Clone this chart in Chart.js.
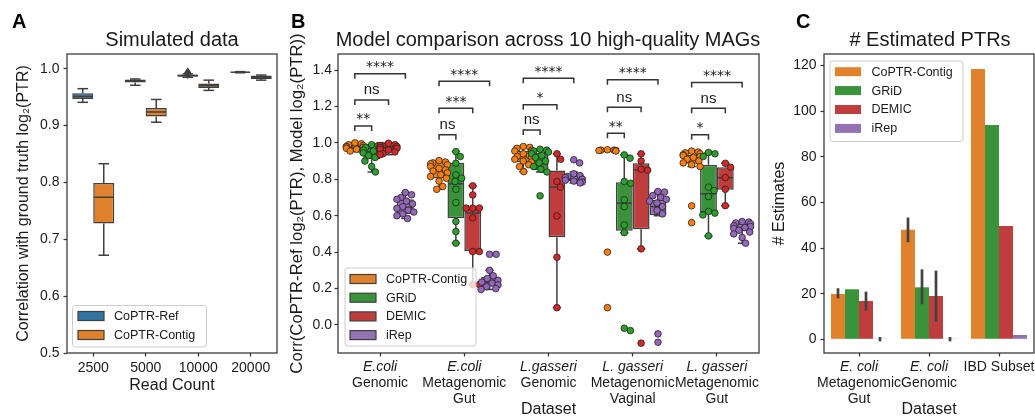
<!DOCTYPE html>
<html>
<head>
<meta charset="utf-8">
<script src="https://cdn.jsdelivr.net/npm/chart.js@4.4.1/dist/chart.umd.min.js"></script>
<style>
html,body{margin:0;padding:0;background:#ffffff;}
#wrap{position:relative;width:1035px;height:419px;overflow:hidden;background:#fff;}
#wrap canvas{position:absolute;top:0;}
</style>
</head>
<body>
<div id="wrap">
<canvas id="cA" width="290" height="419" style="left:0px"></canvas>
<canvas id="cB" width="490" height="419" style="left:285px"></canvas>
<canvas id="cC" width="267" height="419" style="left:768px"></canvas>
</div>
<script>
// ================= DATA =================
// Panel A: simulated data (box stats = [lower whisker, q1, median, q3, upper whisker])
const readCounts = ['2500', '5000', '10000', '20000'];
const refBox = [[0.941,0.947,0.951,0.957,0.965],[0.971,0.976,0.979,0.981,0.982],[0.985,0.986,0.988,0.990,0.991],[0.993,0.9935,0.994,0.9945,0.995]];
const contigBoxA = [[0.672,0.728,0.774,0.799,0.833],[0.906,0.916,0.924,0.931,0.946],[0.962,0.966,0.970,0.974,0.980],[0.980,0.982,0.985,0.988,0.989]];
const refFliers = [[],[],[0.991,0.9925,0.9935],[]];
const contigFliersA = [[],[],[],[]];

// Panel B: model comparison
const bCategories = ['E.coli Genomic','E.coli Metagenomic Gut','L.gasseri Genomic','L.gasseri Metagenomic Vaginal','L.gasseri Metagenomic Gut'];
const bTickLines = [['E.coli','Genomic'],['E.coli','Metagenomic','Gut'],['L.gasseri','Genomic'],['L. gasseri','Metagenomic','Vaginal'],['L. gasseri','Metagenomic','Gut']];
const models = ['CoPTR-Contig','GRiD','DEMIC','iRep'];
const contigBoxB = [[0.952,0.962,0.975,0.988,1.0],[0.745,0.806,0.852,0.90,0.903],[0.842,0.895,0.925,0.955,0.98],[0.955,0.957,0.959,0.960,0.962],[0.87,0.885,0.91,0.935,0.955]];
const gridBox = [[0.84,0.91,0.95,0.975,0.99],[0.449,0.586,0.775,0.891,0.952],[0.84,0.85,0.885,0.945,0.965],[0.507,0.518,0.669,0.784,0.934],[0.489,0.617,0.72,0.879,0.947]];
const demicBox = [[0.935,0.955,0.972,0.985,0.998],[0.222,0.405,0.615,0.647,0.764],[0.095,0.482,0.757,0.848,0.94],[0.418,0.526,0.852,0.888,0.94],[0.655,0.742,0.809,0.866,0.888]];
const irepBox = [[0.585,0.61,0.645,0.69,0.727],[0.195,0.215,0.235,0.265,0.30],[0.78,0.79,0.80,0.82,0.84],[0.60,0.604,0.65,0.687,0.733],[0.449,0.515,0.535,0.555,0.568]];
const contigPts = [
  [1.0,0.995,0.99,0.985,0.98,0.978,0.975,0.97,0.965,0.96,0.955,0.952],
  [0.903,0.895,0.89,0.885,0.88,0.87,0.86,0.852,0.845,0.835,0.825,0.815,0.806,0.79,0.76,0.745],
  [0.98,0.975,0.97,0.96,0.955,0.95,0.94,0.93,0.925,0.92,0.91,0.90,0.895,0.88,0.87,0.842],
  [0.962,0.96,0.96,0.958,0.958,0.955,0.40,0.095],
  [0.955,0.95,0.945,0.94,0.935,0.93,0.925,0.92,0.91,0.90,0.89,0.88,0.87,0.654,0.562]
];
const gridPts = [
  [0.99,0.985,0.975,0.97,0.96,0.955,0.95,0.945,0.93,0.92,0.90,0.87,0.84],
  [0.952,0.925,0.888,0.824,0.806,0.788,0.745,0.672,0.568,0.513,0.449],
  [0.965,0.96,0.955,0.95,0.94,0.93,0.92,0.90,0.89,0.87,0.855,0.84,0.709],
  [0.934,0.916,0.788,0.778,0.687,0.65,0.549,0.507,-0.018,-0.031],
  [0.947,0.94,0.925,0.757,0.738,0.705,0.623,0.614,0.604,0.489]
];
const demicPts = [
  [0.998,0.99,0.985,0.985,0.98,0.975,0.97,0.965,0.96,0.95,0.94,0.935],
  [0.764,0.714,0.642,0.642,0.642,0.588,0.403,0.403,0.222,0.222],
  [0.94,0.91,0.788,0.757,0.599,0.372,0.095],
  [0.94,0.90,0.855,0.85,0.418,-0.10],
  [0.888,0.866,0.809,0.745,0.655]
];
const irepPts = [
  [0.727,0.715,0.70,0.69,0.68,0.665,0.65,0.64,0.63,0.62,0.61,0.60,0.585],
  [0.388,0.388,0.30,0.27,0.255,0.245,0.235,0.23,0.22,0.21,0.20,0.195],
  [0.907,0.89,0.83,0.82,0.815,0.81,0.80,0.80,0.795,0.79,0.785,0.78],
  [0.733,0.73,0.71,0.70,0.69,0.68,0.67,0.65,0.63,0.61,-0.049,-0.095],
  [0.568,0.565,0.56,0.555,0.545,0.54,0.535,0.53,0.52,0.51,0.50,0.48,0.449]
];
// significance annotations: comparisons CoPTR-Contig vs GRiD, DEMIC, iRep
const sigLabels = [['**','ns','****'],['ns','***','****'],['ns','*','****'],['**','ns','****'],['*','ns','****']];
const sigLevels = [[1.093,1.236,1.379],[1.044,1.19,1.339],[1.071,1.209,1.355],[1.053,1.196,1.346],[1.044,1.19,1.331]];

// Panel C: number of estimates
const cCategories = ['E. coli Metagenomic Gut','E. coli Genomic','IBD Subset'];
const cTickLines = [['E. coli','Metagenomic','Gut'],['E. coli','Genomic'],['IBD Subset']];
const cItalicFirst = [true, true, false];
const contigCount = [19.9, 48.0, 118.5];
const gridCount = [21.95, 22.8, 94.0];
const demicCount = [16.8, 19.0, 49.7];
const irepCount = [0.3, 0.3, 1.9];
const contigCI = [[18.0,22.4],[42.6,53.4],null];
const gridCI = [null,[15.4,30.7],null];
const demicCI = [[12.6,20.9],[7.7,30.1],null];
const irepCI = [[-0.9,1.0],[-0.9,1.0],null];

// ================= STYLE =================
const FONT = "'Liberation Sans', Arial, sans-serif";
Chart.defaults.font.family = FONT;
Chart.defaults.color = '#1a1a1a';
Chart.defaults.animation = false;
Chart.defaults.plugins.legend.display = false;
Chart.defaults.plugins.tooltip.enabled = false;
const TXT = '#1a1a1a', SPINE = '#333333', BOXLINE = '#3f3f3f';
const DESAT = {blue:'#3274a1', orange:'#e1812c', green:'#3a923a', red:'#c03d3e', purple:'#9372b2'};
const FULL = {orange:'#ff7f0e', green:'#2ca02c', red:'#d62728', purple:'#9467bd'};

function yScale(o) {
  return {
    type:'linear', min:o.min, max:o.max,
    afterFit: s => { s.width = o.width; },
    grid:{display:true, drawOnChartArea:false, drawTicks:true, tickLength:3.5, tickWidth:1.25, tickColor:SPINE},
    border:{display:false},
    ticks:{stepSize:o.step, includeBounds:false, padding:o.pad, font:{size:14}, color:TXT, callback:o.fmt},
    title:{display:true, text:o.title, font:{size:o.tsize || 16, lineHeight:1}, color:TXT, padding:{top:o.tpad, bottom:0}}
  };
}
function xScale(o) {
  return {
    type:'category', labels:o.labels, offset:true,
    afterFit: s => { s.height = 66; },
    grid:{display:true, offset:false, drawOnChartArea:false, drawTicks:true, tickLength:3.5, tickWidth:1.25, tickColor:SPINE},
    border:{display:false},
    ticks:{display:o.showTicks, padding:o.pad, font:{size:14}, color:TXT, maxRotation:0, autoSkip:false},
    title:{display:true, text:o.title, font:{size:16, lineHeight:1}, color:TXT, padding:{top:0, bottom:o.tpad}}
  };
}
function line(ctx, x1, y1, x2, y2) { ctx.beginPath(); ctx.moveTo(x1, y1); ctx.lineTo(x2, y2); ctx.stroke(); }
function spines(chart) {
  const {ctx, chartArea:a} = chart;
  ctx.save(); ctx.strokeStyle = SPINE; ctx.lineWidth = 1.25;
  ctx.strokeRect(a.left, a.top, a.right - a.left, a.bottom - a.top);
  ctx.restore();
}
function titles(chart, letter, lx, title, tx) {
  const ctx = chart.ctx;
  ctx.save(); ctx.fillStyle = '#000'; ctx.textBaseline = 'alphabetic';
  ctx.font = 'bold 20px ' + FONT; ctx.textAlign = 'left'; ctx.fillText(letter, lx, 28);
  ctx.font = '20px ' + FONT; ctx.textAlign = 'center'; ctx.fillStyle = TXT; ctx.fillText(title, tx, 46);
  ctx.restore();
}
function roundRectPath(ctx, x, y, w, h, r) {
  ctx.beginPath(); ctx.moveTo(x + r, y); ctx.lineTo(x + w - r, y); ctx.arcTo(x + w, y, x + w, y + r, r);
  ctx.lineTo(x + w, y + h - r); ctx.arcTo(x + w, y + h, x + w - r, y + h, r);
  ctx.lineTo(x + r, y + h); ctx.arcTo(x, y + h, x, y + h - r, r);
  ctx.lineTo(x, y + r); ctx.arcTo(x, y, x + r, y, r); ctx.closePath();
}
function legend(chart, L) {
  const ctx = chart.ctx;
  ctx.save();
  roundRectPath(ctx, L.x, L.y, L.w, L.h, 3);
  ctx.fillStyle = 'rgba(255,255,255,0.8)'; ctx.fill();
  ctx.strokeStyle = '#cccccc'; ctx.lineWidth = 1; ctx.stroke();
  ctx.font = '12.5px ' + FONT; ctx.textBaseline = 'middle'; ctx.textAlign = 'left';
  L.items.forEach((it, k) => {
    const cy = L.row0 + k * L.gap;
    ctx.fillStyle = it.fill; ctx.fillRect(L.sx, cy - 4.5, 26, 9);
    if (it.edge) { ctx.strokeStyle = it.edge; ctx.lineWidth = 1.2; ctx.strokeRect(L.sx, cy - 4.5, 26, 9); }
    ctx.fillStyle = TXT; ctx.fillText(it.label, L.tx, cy + 0.5);
  });
  ctx.restore();
}
function boxExtras(chart, boxes, fliers) {
  const ctx = chart.ctx, y = chart.scales.y;
  ctx.save(); ctx.strokeStyle = BOXLINE; ctx.lineWidth = 1.5; ctx.lineCap = 'butt';
  boxes.forEach((arr, ds) => {
    const meta = chart.getDatasetMeta(ds);
    arr.forEach((b, i) => {
      const el = meta.data[i]; const cx = el.x, hw = el.width / 2;
      const p = b.map(v => y.getPixelForValue(v));
      line(ctx, cx, p[3], cx, p[4]); line(ctx, cx, p[1], cx, p[0]);
      line(ctx, cx - hw / 2, p[4], cx + hw / 2, p[4]);
      line(ctx, cx - hw / 2, p[0], cx + hw / 2, p[0]);
      line(ctx, cx - hw + 0.75, p[2], cx + hw - 0.75, p[2]);
      if (fliers && fliers[ds][i]) {
        ctx.fillStyle = BOXLINE;
        fliers[ds][i].forEach(v => {
          const fy = y.getPixelForValue(v);
          ctx.beginPath(); ctx.moveTo(cx, fy - 5); ctx.lineTo(cx + 3.5, fy); ctx.lineTo(cx, fy + 5); ctx.lineTo(cx - 3.5, fy); ctx.closePath(); ctx.fill();
        });
      }
    });
  });
  ctx.restore();
}
// beeswarm placement in pixel space, with seaborn-like gutters (clamped to the slot half-width)
function swarmOffsets(ys, r, half) {
  const d = 2 * r, placed = [], out = new Array(ys.length);
  const order = ys.map((v, i) => i).sort((a, b) => ys[a] - ys[b]);
  for (const i of order) {
    const yy = ys[i];
    const nb = placed.filter(p => Math.abs(p.y - yy) < d);
    const cands = [0];
    nb.forEach(p => { const dx = Math.sqrt(d * d - (p.y - yy) ** 2); cands.push(p.x + dx + 0.01, p.x - dx - 0.01); });
    cands.sort((a, b) => Math.abs(a) - Math.abs(b));
    let ch = 0;
    for (const c of cands) { if (nb.every(p => (p.x - c) ** 2 + (p.y - yy) ** 2 >= d * d - 0.05)) { ch = c; break; } }
    placed.push({x: ch, y: yy}); out[i] = ch;
  }
  return out.map(o => Math.max(-half, Math.min(half, o)));
}
function swarm(chart, ptsSets, colors) {
  const ctx = chart.ctx, y = chart.scales.y, r = 3.3;
  ctx.save();
  ptsSets.forEach((groups, ds) => {
    const meta = chart.getDatasetMeta(ds);
    groups.forEach((vals, i) => {
      const el = meta.data[i], cx = el.x, half = el.width / 2;
      const ys = vals.map(v => y.getPixelForValue(v));
      const offs = swarmOffsets(ys, r, half);
      ys.forEach((py, k) => {
        ctx.beginPath(); ctx.arc(cx + offs[k], py, r, 0, Math.PI * 2);
        ctx.fillStyle = colors[ds]; ctx.fill();
        ctx.strokeStyle = '#222222'; ctx.lineWidth = 0.8; ctx.stroke();
      });
    });
  });
  ctx.restore();
}
function customXTicks(chart, lines, italicFirst) {
  const ctx = chart.ctx, x = chart.scales.x, base = chart.chartArea.bottom;
  ctx.save(); ctx.fillStyle = TXT; ctx.textAlign = 'center'; ctx.textBaseline = 'middle';
  lines.forEach((ls, i) => {
    const px = x.getPixelForTick(i);
    ls.forEach((t, k) => {
      ctx.font = ((k === 0 && italicFirst[i]) ? 'italic ' : '') + '14px ' + FONT;
      ctx.fillText(t, px, base + 14 + k * 16);
    });
  });
  ctx.restore();
}

// ================= PANEL A =================
new Chart(document.getElementById('cA'), {
  type:'bar',
  data:{ labels: readCounts, datasets:[
    {label:'CoPTR-Ref', data: refBox.map(b => [b[1], b[3]]), backgroundColor: DESAT.blue, borderColor: BOXLINE, borderWidth:1.5, borderSkipped:false, categoryPercentage:0.8, barPercentage:1},
    {label:'CoPTR-Contig', data: contigBoxA.map(b => [b[1], b[3]]), backgroundColor: DESAT.orange, borderColor: BOXLINE, borderWidth:1.5, borderSkipped:false, categoryPercentage:0.8, barPercentage:1}
  ]},
  options:{
    responsive:false,
    layout:{padding:{top:54, right:13, left:0, bottom:0}},
    scales:{
      x: xScale({labels: readCounts, showTicks:true, pad:3, title:'Read Count', tpad:25}),
      y: yScale({min:0.5, max:1.026, step:0.1, width:67, pad:4, tpad:16, fmt: v => v.toFixed(1), title:'Correlation with ground truth log\u2082(PTR)'})
    }
  },
  plugins:[{ id:'pA',
    afterDatasetsDraw(chart){ boxExtras(chart, [refBox, contigBoxA], [refFliers, contigFliersA]); },
    afterDraw(chart){
      spines(chart);
      titles(chart, 'A', 12, 'Simulated data', 172);
      legend(chart, {x:72.5, y:305.5, w:134, h:41.5, row0:316, gap:19, sx:78, tx:114,
        items:[{label:'CoPTR-Ref', fill:DESAT.blue, edge:BOXLINE},{label:'CoPTR-Contig', fill:DESAT.orange, edge:BOXLINE}]});
    }
  }]
});

// ================= PANEL B =================
const bBoxes = [contigBoxB, gridBox, demicBox, irepBox];
const bFill = [DESAT.orange, DESAT.green, DESAT.red, DESAT.purple];
new Chart(document.getElementById('cB'), {
  type:'bar',
  data:{ labels: bCategories, datasets: bBoxes.map((bx, k) => ({
    label: models[k], data: bx.map(b => [b[1], b[3]]), backgroundColor: bFill[k], borderColor: BOXLINE, borderWidth:1.5, borderSkipped:false, categoryPercentage:0.8, barPercentage:1
  }))},
  options:{
    responsive:false,
    layout:{padding:{top:54, right:16, left:0, bottom:0}},
    scales:{
      x: xScale({labels: bCategories, showTicks:false, pad:3, title:'Dataset', tpad:1}),
      y: yScale({min:-0.154, max:1.488, step:0.2, width:53, pad:2.5, tpad:3.8, tsize:16.7, fmt: v => v.toFixed(1), title:'Corr(CoPTR-Ref log\u2082(PTR), Model log\u2082(PTR))'})
    }
  },
  plugins:[{ id:'pB',
    afterDatasetsDraw(chart){
      boxExtras(chart, bBoxes, null);
      swarm(chart, [contigPts, gridPts, demicPts, irepPts], [FULL.orange, FULL.green, FULL.red, FULL.purple]);
      // significance brackets
      const ctx = chart.ctx, y = chart.scales.y;
      ctx.save(); ctx.strokeStyle = '#333'; ctx.lineWidth = 1.5; ctx.fillStyle = TXT;
      ctx.textAlign = 'center'; ctx.textBaseline = 'alphabetic';
      sigLabels.forEach((labs, i) => {
        const x0 = chart.getDatasetMeta(0).data[i].x;
        labs.forEach((lab, k) => {
          const x1 = chart.getDatasetMeta(k + 1).data[i].x;
          const py = y.getPixelForValue(sigLevels[i][k]);
          ctx.beginPath(); ctx.moveTo(x0, py + 5); ctx.lineTo(x0, py); ctx.lineTo(x1, py); ctx.lineTo(x1, py + 5); ctx.stroke();
          if (lab.indexOf('*') >= 0) { ctx.font = "14px 'DejaVu Sans', sans-serif"; ctx.fillText(lab, (x0 + x1) / 2, py - 2.5); }
          else { ctx.font = '15px ' + FONT; ctx.fillText(lab, (x0 + x1) / 2, py - 5.5); }
        });
      });
      ctx.restore();
    },
    afterDraw(chart){
      spines(chart);
      customXTicks(chart, bTickLines, [true, true, true, true, true]);
      titles(chart, 'B', 6, 'Model comparison across 10 high-quality MAGs', 263);
      legend(chart, {x:60, y:268, w:131, h:78, row0:279, gap:18.7, sx:65, tx:101,
        items: models.map((m, k) => ({label:m, fill:bFill[k], edge:BOXLINE}))});
    }
  }]
});

// ================= PANEL C =================
const cCounts = [contigCount, gridCount, demicCount, irepCount];
const cCIs = [contigCI, gridCI, demicCI, irepCI];
new Chart(document.getElementById('cC'), {
  type:'bar',
  data:{ labels: cCategories, datasets: cCounts.map((d, k) => ({
    label: models[k], data: d, backgroundColor: bFill[k], borderWidth:0, categoryPercentage:0.8, barPercentage:1
  }))},
  options:{
    responsive:false,
    layout:{padding:{top:54, right:1, left:0, bottom:0}},
    scales:{
      x: xScale({labels: cCategories, showTicks:false, pad:3, title:'Dataset', tpad:1}),
      y: yScale({min:-6.0, max:125.1, step:20, width:56, pad:4, tpad:4, fmt: v => String(v), title:'# Estimates'})
    }
  },
  plugins:[{ id:'pC',
    afterDatasetsDraw(chart){
      const ctx = chart.ctx, y = chart.scales.y;
      ctx.save(); ctx.strokeStyle = '#424242'; ctx.lineWidth = 2.7; ctx.lineCap = 'butt';
      cCIs.forEach((arr, ds) => {
        const meta = chart.getDatasetMeta(ds);
        arr.forEach((ci, i) => { if (!ci) return; const cx = meta.data[i].x; line(ctx, cx, y.getPixelForValue(ci[0]), cx, y.getPixelForValue(ci[1])); });
      });
      ctx.restore();
    },
    afterDraw(chart){
      spines(chart);
      customXTicks(chart, cTickLines, cItalicFirst);
      titles(chart, 'C', 28, '# Estimated PTRs', 162);
      legend(chart, {x:62, y:61, w:133, h:80.5, row0:71.7, gap:18.9, sx:67, tx:103.5,
        items: models.map((m, k) => ({label:m, fill:bFill[k], edge:null}))});
    }
  }]
});
</script>
</body>
</html>
